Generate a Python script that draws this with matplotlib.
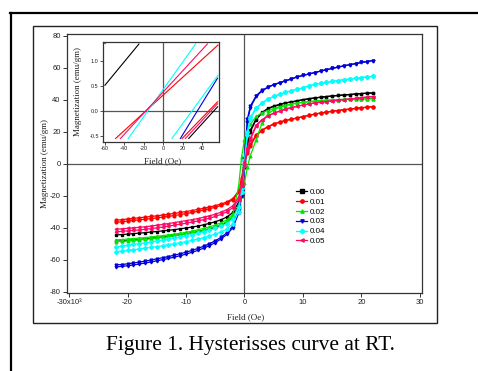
import numpy as np
import matplotlib
matplotlib.use("Agg")
import matplotlib.pyplot as plt
from matplotlib.lines import Line2D
from matplotlib.patches import Rectangle

plt.rcParams['font.family'] = ['Liberation Sans', 'DejaVu Sans']
plt.rcParams['axes.unicode_minus'] = False

# applied field (kOe)
field = [-22, -21, -20, -19, -18, -17, -16, -15, -14, -13, -12, -11, -10, -9, -8, -7, -6, -5, -4, -3, -2, -1,
         -0.5, 0, 0.5,
         1, 2, 3, 4, 5, 6, 7, 8, 9, 10, 11, 12, 13, 14, 15, 16, 17, 18, 19, 20, 21, 22]

# magnetization (emu/gm), descending-field branch ("up") and ascending-field branch ("dn")
m000_up = [-44.5, -44.3, -44.0, -43.7, -43.4, -43.1, -42.7, -42.4, -42.0, -41.6, -41.2, -40.7, -40.2, -39.6, -39.0, -38.2, -37.3, -36.3, -35.0, -33.3, -30.5, -24.0,
           -13, 2, 14,
           21, 28, 32, 34.5, 36, 37, 38, 38.6, 39.3, 40, 40.6, 41.1, 41.5, 41.9, 42.3, 42.6, 42.9, 43.2, 43.5, 43.8, 44.0, 44.2]
m000_dn = [-48.5, -48.3, -48.0, -47.7, -47.4, -47.0, -46.6, -46.2, -45.8, -45.4, -44.9, -44.4, -43.8, -43.2, -42.5, -41.7, -40.8, -39.7, -38.3, -36.5, -33.0, -26.0,
           -15, -1, 12,
           20, 27.5, 31.7, 34.3, 35.8, 36.9, 37.9, 38.5, 39.2, 39.9, 40.5, 41.0, 41.5, 41.9, 42.3, 42.6, 42.9, 43.2, 43.5, 43.8, 44.0, 44.2]

m001_up = [-35.3, -35.0, -34.6, -34.2, -33.8, -33.4, -33.0, -32.6, -32.1, -31.6, -31.1, -30.5, -29.9, -29.3, -28.6, -27.9, -27.1, -26.2, -25.2, -23.9, -21.8, -17.0,
           -9, 2, 8,
           12, 18, 21, 23.2, 24.8, 26, 27, 27.8, 28.6, 29.4, 30.2, 31, 31.6, 32.2, 32.7, 33.2, 33.7, 34.1, 34.5, 34.9, 35.3, 35.6]
m001_dn = [-36.6, -36.3, -35.9, -35.5, -35.1, -34.7, -34.3, -33.9, -33.4, -32.9, -32.4, -31.8, -31.2, -30.5, -29.8, -29.0, -28.2, -27.2, -26.1, -24.7, -22.5, -18.0,
           -10.5, 0, 6.5,
           11, 17.5, 20.7, 23, 24.6, 25.9, 26.9, 27.7, 28.5, 29.3, 30.1, 30.9, 31.6, 32.2, 32.7, 33.2, 33.7, 34.1, 34.5, 34.9, 35.3, 35.6]

m002_up = [-47.6, -47.4, -47.1, -46.8, -46.5, -46.2, -45.8, -45.4, -45.0, -44.5, -44.0, -43.5, -42.9, -42.2, -41.4, -40.5, -39.5, -38.3, -36.9, -35.0, -31.5, -14.0,
           4, 15, 21,
           24.5, 29.5, 31.8, 33.2, 34.5, 35.6, 36.5, 37.3, 37.9, 38.4, 38.8, 39.1, 39.4, 39.6, 39.8, 40.0, 40.1, 40.2, 40.3, 40.4, 40.5, 40.6]
m002_dn = [-48.7, -48.5, -48.2, -47.9, -47.6, -47.3, -46.9, -46.5, -46.1, -45.6, -45.1, -44.6, -44.0, -43.3, -42.5, -41.6, -40.6, -39.4, -38.0, -36.2, -33.0, -27.0,
           -20, -12, -2,
           5, 15, 25.5, 31, 33.8, 35.3, 36.3, 37.1, 37.8, 38.3, 38.7, 39.0, 39.3, 39.6, 39.8, 40.0, 40.1, 40.2, 40.3, 40.4, 40.5, 40.6]

m003_up = [-63.3, -63.0, -62.6, -62.1, -61.5, -60.9, -60.2, -59.5, -58.8, -58.0, -57.2, -56.3, -55.3, -54.2, -53.0, -51.6, -50.0, -48.2, -46.0, -43.2, -39.0, -29.0,
           -17, 3, 28,
           36, 42.5, 45.8, 47.8, 49.4, 50.6, 51.8, 52.9, 54.2, 55.1, 56.0, 56.9, 57.8, 58.7, 59.5, 60.3, 61.1, 61.8, 62.5, 63.2, 63.8, 64.4]
m003_dn = [-64.5, -64.2, -63.8, -63.3, -62.7, -62.1, -61.4, -60.7, -60.0, -59.2, -58.4, -57.5, -56.5, -55.4, -54.2, -52.8, -51.2, -49.3, -47.0, -44.2, -40.0, -31.0,
           -20, -3, 26,
           35, 42, 45.5, 47.6, 49.3, 50.5, 51.7, 52.8, 54.2, 55.1, 56.0, 56.9, 57.8, 58.7, 59.5, 60.3, 61.1, 61.8, 62.5, 63.2, 63.8, 64.4]

m004_up = [-51.9, -51.5, -51.0, -50.5, -50.0, -49.5, -49.0, -48.4, -47.8, -47.2, -46.5, -45.8, -45.1, -44.3, -43.5, -42.6, -41.6, -40.5, -39.2, -37.6, -34.5, -27.0,
           -15, 2, 20,
           29, 35, 38, 40.3, 42, 43.3, 44.5, 45.5, 46.5, 47.4, 48.6, 49.5, 50.2, 50.8, 51.4, 51.9, 52.4, 52.9, 53.4, 53.8, 54.2, 54.6]
m004_dn = [-55.0, -54.6, -54.2, -53.8, -53.3, -52.8, -52.3, -51.8, -51.2, -50.6, -50.0, -49.4, -48.7, -47.9, -47.1, -46.2, -45.2, -44.0, -42.6, -40.8, -37.5, -30.0,
           -18, -1, 18,
           28, 34.5, 37.8, 40.2, 42, 43.3, 44.5, 45.5, 46.5, 47.4, 48.6, 49.5, 50.2, 50.8, 51.4, 51.9, 52.4, 52.9, 53.4, 53.8, 54.2, 54.6]

m005_up = [-41.0, -40.7, -40.4, -40.1, -39.8, -39.4, -39.0, -38.5, -38.0, -37.4, -36.8, -36.2, -35.6, -35.0, -34.3, -33.5, -32.6, -31.6, -30.3, -28.7, -26.3, -21.0,
           -12, 1, 10,
           16, 24, 27.5, 29.8, 31.5, 32.8, 34, 35, 35.8, 36.6, 37.3, 37.9, 38.4, 38.8, 39.2, 39.6, 40.0, 40.4, 40.8, 41.2, 41.6, 41.9]
m005_dn = [-42.6, -42.3, -42.0, -41.7, -41.4, -41.0, -40.6, -40.1, -39.6, -39.0, -38.4, -37.8, -37.2, -36.5, -35.8, -35.0, -34.1, -33.0, -31.7, -30.0, -27.5, -22.5,
           -14, -1, 8.5,
           15, 23.5, 27.2, 29.8, 31.5, 32.8, 34, 35, 35.8, 36.6, 37.3, 37.9, 38.4, 38.8, 39.2, 39.6, 40.0, 40.4, 40.8, 41.2, 41.6, 41.9]

labels = ['0.00', '0.01', '0.02', '0.03', '0.04', '0.05']
colors = ['#000000', '#ff0000', '#00e600', '#0000d8', '#00ffff', '#ff0a64']
markers = ['s', 'o', '^', 'v', 'D', '<']
branches = [(m000_up, m000_dn), (m001_up, m001_dn), (m002_up, m002_dn),
            (m003_up, m003_dn), (m004_up, m004_dn), (m005_up, m005_dn)]

# low-field detail (Oe, emu/gm): end points of the linear segments near the origin
inset_up = {
    '0.00': ([-60, -25], [0.51, 1.33]),
    '0.01': ([-49, 56.5], [-0.55, 1.31]),
    '0.03': ([-60, -58], [1.34, 1.40]),
    '0.04': ([-36, 33.3], [-0.55, 1.33]),
    '0.05': ([-44, 45.5], [-0.55, 1.33]),
}
inset_dn = {
    '0.00': ([26.3, 56], [-0.55, 0.08]),
    '0.01': ([19.5, 56], [-0.55, 0.18]),
    '0.03': ([17.7, 56], [-0.55, 0.65]),
    '0.04': ([9, 56.5], [-0.55, 0.71]),
    '0.05': ([22.9, 56], [-0.55, 0.14]),
}

fig = plt.figure(figsize=(4.78, 3.71), dpi=100)

# page border and chart frame
fig.add_artist(Line2D([10 / 478, 1], [1 - 13 / 371, 1 - 13 / 371], color='black', lw=1.6))
fig.add_artist(Line2D([11 / 478, 11 / 478], [0, 1 - 13 / 371], color='black', lw=1.6))
fig.add_artist(Rectangle((33 / 478, 1 - 323 / 371), 404 / 478, 297 / 371, fill=False,
                         edgecolor='#222222', lw=1.0))

ax = fig.add_axes([67 / 478, 1 - 293 / 371, 355 / 478, 259 / 371])
ax.axhline(0, color='#555555', lw=0.9, zorder=1)
ax.axvline(0, color='#555555', lw=0.9, zorder=1)

for lab, col, mk, (up, dn) in zip(labels, colors, markers, branches):
    ax.plot(field, dn, color=col, marker=mk, ms=2.0, lw=0.9, zorder=3)
    ax.plot(field, up, color=col, marker=mk, ms=2.0, lw=0.9, zorder=3, label=lab)

ax.set_xlim(-30.35, 30.35)
ax.set_ylim(-80.8, 81)
ax.set_xticks([-30, -20, -10, 0, 10, 20, 30])
ax.set_xticklabels(['-30x10³', '-20', '-10', '0', '10', '20', '30'])
ax.set_yticks([-80, -60, -40, -20, 0, 20, 40, 60, 80])
ax.tick_params(direction='out', length=3, width=0.7, labelsize=5.5, pad=1.5, colors='#333333',
               labelcolor='#222222')
for s in ax.spines.values():
    s.set_color('#333333')
    s.set_linewidth(0.9)

ax.set_xlabel('Field (Oe)', family='Liberation Serif', fontsize=6.5, color='#222222')
ax.set_ylabel('Magnetization (emu/gm)', family='Liberation Serif', fontsize=6.5, color='#222222')
ax.xaxis.set_label_coords(0.504, -0.078)
ax.yaxis.set_label_coords(-0.05, 0.5)

ax.legend(loc='upper left', bbox_to_anchor=(0.645, 0.405), frameon=False, fontsize=5.8,
          handlelength=1.4, handletextpad=0.3, labelspacing=0.28, borderpad=0, borderaxespad=0,
          markerscale=1.2)

# inset with the low-field region
ins = fig.add_axes([103 / 478, 1 - 142 / 371, 116 / 478, 100 / 371])
ins.axhline(0, color='#555555', lw=0.9)
ins.axvline(0, color='#555555', lw=0.9)
for lab, col in zip(labels, colors):
    if lab in inset_up:
        ins.plot(*inset_up[lab], color=col, lw=0.8)
        ins.plot(*inset_dn[lab], color=col, lw=0.8)
ins.set_xlim(-62, 57.5)
ins.set_ylim(-0.62, 1.37)
ins.set_xticks([-60, -40, -20, 0, 20, 40])
ins.set_yticks([-0.5, 0.0, 0.5, 1.0])
ins.set_yticklabels(['-0.5', '0.0', '0.5', '1.0'])
ins.tick_params(direction='out', length=2, width=0.6, labelsize=4, pad=1, colors='#333333',
                labelcolor='#222222')
for s in ins.spines.values():
    s.set_color('#333333')
    s.set_linewidth(0.9)
ins.set_xlabel('Field (Oe)', family='Liberation Serif', fontsize=6.5, color='#222222')
ins.set_ylabel('Magnetization (emu/gm)', family='Liberation Serif', fontsize=6.5, color='#222222')
ins.xaxis.set_label_coords(0.513, -0.15)
ins.yaxis.set_label_coords(-0.18, 0.51)

fig.text(0.524, 0.070, 'Figure 1. Hysterisses curve at RT.', family='Liberation Serif',
         fontsize=15.4, ha='center', va='center')

fig.savefig('out.png', dpi=100)
